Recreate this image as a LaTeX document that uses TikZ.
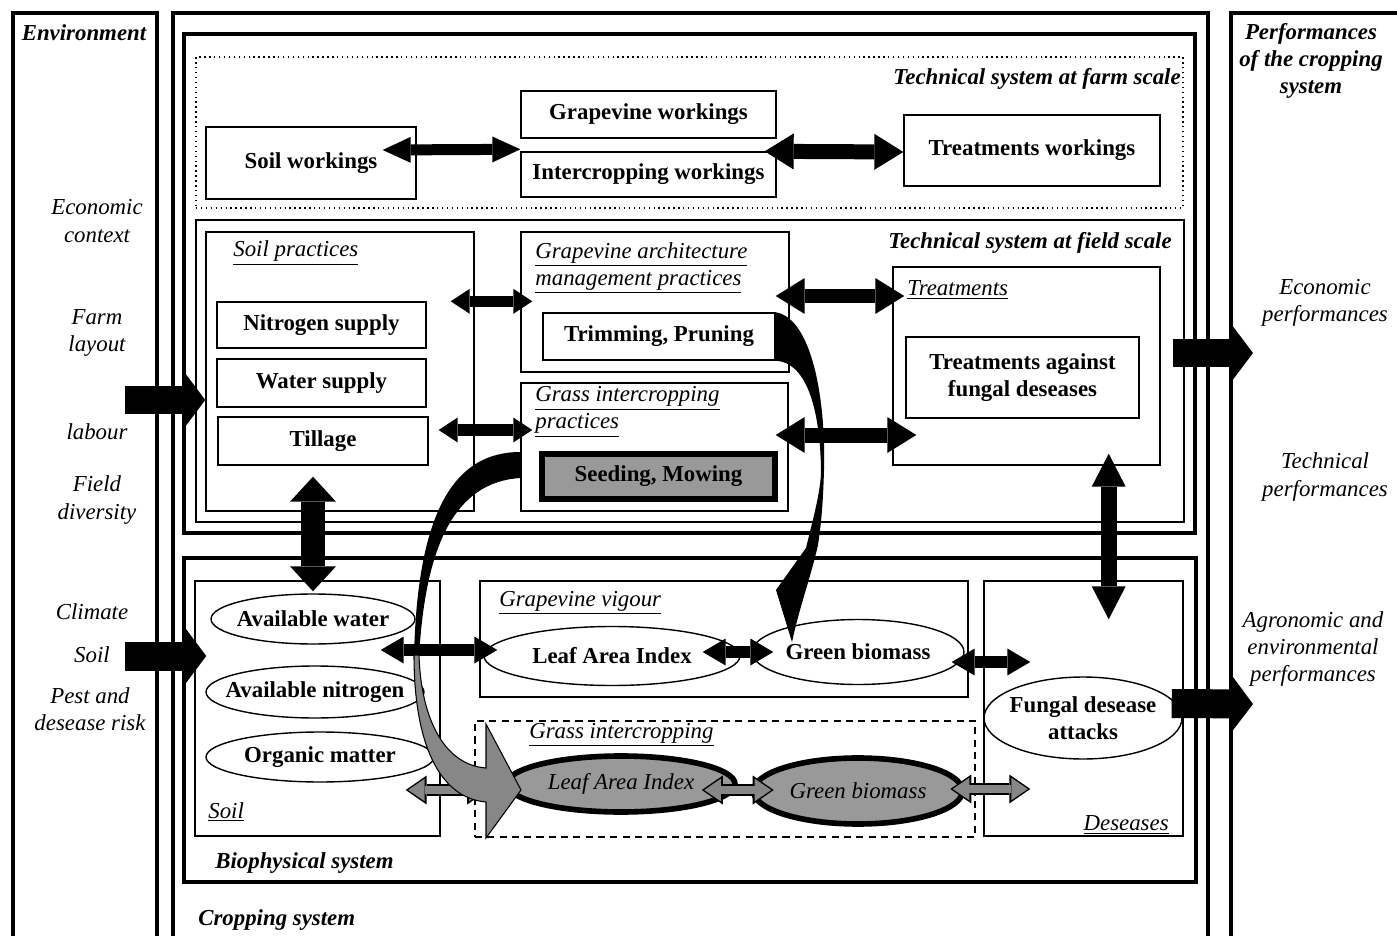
\documentclass[tikz,border=0pt]{standalone}
\usepackage{fontspec}
\setmainfont{Liberation Serif}
\usepackage{tikz}
\usetikzlibrary{arrows.meta,positioning,fit,shapes.geometric,calc}
\definecolor{seedGray}{RGB}{153,153,153}
\definecolor{arrowGray}{RGB}{135,135,135}
\newcommand{\baseSize}{\fontsize{13pt}{15.5pt}\selectfont}
\tikzset{
  thinframe/.style={draw, line width=0.8pt, inner sep=0pt},
  heavyframe/.style={draw, line width=2.3pt, inner sep=0pt},
  outerframe/.style={draw, line width=2.6pt},
  wbox/.style={draw, fill=white, line width=0.8pt, inner sep=0pt, align=center, font=\baseSize\bfseries},
  seedbox/.style={wbox, fill=seedGray, line width=3.4pt},
  oval/.style={ellipse, draw, fill=white, line width=0.8pt, inner xsep=-2cm, inner ysep=0pt, align=center, font=\baseSize\bfseries},
  grayoval/.style={oval, fill=seedGray, line width=3.2pt, font=\baseSize\itshape},
  headline/.style={inner sep=0pt, font=\baseSize\bfseries\itshape, align=center},
  sidetext/.style={inner sep=0pt, font=\baseSize\itshape, align=center},
  sublabel/.style={inner sep=0pt, font=\baseSize\itshape, align=left},
  dblarrow/.style n args={3}{draw=black, line width=#1, {Triangle[width=#2,length=#3,line width=0pt]}-{Triangle[width=#2,length=#3,line width=0pt]}},
  bigflow/.style={dblarrow={0.3cm}{0.72cm}{0.58cm}},
  smallflow/.style={dblarrow={0.23cm}{0.5cm}{0.38cm}},
  medflow/.style={dblarrow={0.25cm}{0.54cm}{0.46cm}},
  vertflow/.style={dblarrow={0.48cm}{0.92cm}{0.5cm}},
  inflow/.style={draw=black, line width=0.58cm, -{Triangle[width=1.22cm,length=0.46cm,line width=0pt]}},
  grayouter/.style={dblarrow={0.24cm}{0.58cm}{0.42cm}},
  grayinner/.style={dblarrow={0.16cm}{0.45cm}{0.33cm}, draw=arrowGray, shorten <=0.05cm, shorten >=0.05cm}
}
\begin{document}
\begin{tikzpicture}[x=0.02cm, y=-0.02cm]
\useasboundingbox (0,0) rectangle (1397,936);
% outer columns
\draw[outerframe] (13,940) |- (157,13) -- (157,940);
\draw[outerframe] (173,940) |- (1208,13) -- (1208,940);
\draw[outerframe] (1231,940) |- (1420,13);
\node[headline] (env) at (84,33) {Environment};
\node[headline] (perf) at (1311,61) {Performances\\of the cropping\\system};
\node[headline, anchor=west] (crop) at (198,920) {Cropping system};

% environment
\node[sidetext] (eco) at (97,221) {Economic\\context};
\node[sidetext] (farmlay) at (97,333) {Farm\\layout};
\node[sidetext] (labour) at (97,432) {labour};
\node[sidetext] (fdiv) at (97,500) {Field\\diversity};
\node[sidetext] (climate) at (92,612) {Climate};
\node[sidetext] (soiltxt) at (92,655) {Soil};
\node[sidetext] (risk) at (90,709) {Pest and\\desease risk};

% performances
\node[sidetext] (ecoperf) at (1325,303) {Economic\\performances};
\node[sidetext] (techperf) at (1325,477) {Technical\\performances};
\node[sidetext] (agroperf) at (1313,649) {Agronomic and\\environmental\\performances};

% technical system, farm scale
\node[heavyframe, fit={(184,34) (1195,533)}] (tech) {};
\node[thinframe, dotted, line width=0.6pt, fit={(196,57) (1183,208)}] (farm) {};
\node[headline, anchor=east] (farml) at (1181,79) {Technical system at farm scale};
\node[wbox, minimum width=4.2cm, minimum height=1.44cm] (soilw) at (311,163) {Soil workings};
\node[wbox, minimum width=5.1cm, minimum height=0.94cm] (gvw) at (648.5,114.5) {Grapevine workings};
\node[wbox, minimum width=5.1cm, minimum height=0.9cm] (icw) at (648.5,174.5) {Intercropping workings};
\node[wbox, minimum width=5.12cm, minimum height=1.42cm] (trw) at (1032,150.5) {Treatments workings};

% technical system, field scale
\node[thinframe, fit={(196,220) (1184,522)}] (field) {};
\node[headline, anchor=east] (fieldl) at (1172,243) {Technical system at field scale};
\node[thinframe, fit={(206,232) (474,511)}] (soilp) {};
\node[sublabel, anchor=west] (soilpl) at (233,253) {\underline{Soil practices}};
\node[wbox, minimum width=4.18cm, minimum height=0.92cm] (nit) at (321.5,325) {Nitrogen supply};
\node[wbox, minimum width=4.18cm, minimum height=0.96cm] (wat) at (321.5,383) {Water supply};
\node[wbox, minimum width=4.2cm, minimum height=0.96cm] (till) at (323,441) {Tillage};
\node[thinframe, fit={(521,232) (789,372)}] (arch) {};
\node[sublabel, anchor=west] (archl) at (535,268) {\underline{Grapevine architecture}\\\underline{management practices}};
\node[wbox, minimum width=4.64cm, minimum height=0.94cm] (trim) at (659,336.5) {Trimming, Pruning};
\node[thinframe, fit={(521,383) (788,511)}] (grassp) {};
\node[sublabel, anchor=west] (grasspl) at (535,412) {\underline{Grass intercropping}\\\underline{practices}};
\node[seedbox, minimum width=4.66cm, minimum height=0.9cm] (seed) at (658.5,476.5) {Seeding, Mowing};
\node[thinframe, fit={(893,267) (1160,465)}] (treat) {};
\node[sublabel, anchor=west] (treatl) at (907,290) {\underline{Treatments}};
\node[wbox, minimum width=4.66cm, minimum height=1.62cm] (tfd) at (1022.5,377.5) {Treatments against\\fungal deseases};

% biophysical system
\node[heavyframe, fit={(184,558) (1196,882)}] (bio) {};
\node[headline, anchor=west] (biol) at (215,863) {Biophysical system};
\node[thinframe, fit={(195,581) (440,836)}] (soil) {};
\node[sublabel, anchor=west] (soill) at (208,812) {\underline{Soil}};
\node[oval, minimum width=4.08cm, minimum height=1cm] (avw) at (313,619) {Available water};
\node[oval, minimum width=4.36cm, minimum height=1.04cm] (avn) at (315,692) {Available nitrogen};
\node[oval, minimum width=4.56cm, minimum height=1cm] (om) at (320,757) {Organic matter};
\node[thinframe, fit={(480,581) (968,697)}] (vig) {};
\node[sublabel, anchor=west] (vigl) at (499,603) {\underline{Grapevine vigour}};
\node[oval, minimum width=5.12cm, minimum height=1.18cm] (glai) at (612,656) {Leaf Area Index};
\node[oval, minimum width=4.24cm, minimum height=1.3cm] (vgb) at (858,652) {Green biomass};
\node[thinframe, fit={(984,581) (1183,836)}] (dis) {};
\node[sublabel, anchor=east] (disl) at (1169,825) {\underline{Deseases}};
\node[oval, minimum width=3.96cm, minimum height=1.64cm] (fda) at (1083,718) {Fungal desease\\attacks};
\node[thinframe, dash pattern=on 4pt off 3pt, fit={(475,721) (975,837)}] (gic) {};
\node[sublabel, anchor=west] (gicl) at (529,735) {\underline{Grass intercropping}};
\node[grayoval, minimum width=4.56cm, minimum height=1.12cm] (ilai) at (621,784) {Leaf Area Index};
\node[grayoval, minimum width=4.18cm, minimum height=1.32cm] (igb) at (858,791) {Green biomass};

% farm scale links
\draw[dblarrow={0.22cm}{0.52cm}{0.56cm}] ($(soilw.east)+(-34,-13)$) -- ($(icw.north west)+(0,-2)$);
\draw[bigflow] ($(icw.north east)+(-12,0)$) -- ($(trw.west)+(0,1.5)$);

% field scale links
\draw[smallflow] ($(soilp.east |- nit.north)+(-24,0)$) -- ($(arch.west |- nit.north)+(12,0)$);
\draw[smallflow] ($(till.east)+(10,-11)$) -- ($(till.east -| grassp.west)+(12,-11)$);
\draw[bigflow] ($(arch.east)+(-14,-6)$) -- ($(treat.west |- arch.east)+(12,-6)$);
\draw[bigflow] ($(grassp.east)+(-13,-12)$) -- ($(treat.west |- grassp.east)+(24,-12)$);
\draw[vertflow] ($(till.south)+(-10,11)$) -- ($(avw.north)+(0,-2)$);
\draw[dblarrow={0.32cm}{0.68cm}{0.66cm}] ($(treat.south east)+(-52,-12)$) -- ($(dis.north east)+(-75,39)$);

% biophysical links
\draw[medflow] ($(avw.east)+(-35,31)$) -- ($(glai.west)+(14,-6)$);
\draw[medflow] ($(glai.east)+(-38,-4)$) -- ($(vgb.west)+(22,0)$);
\draw[medflow] ($(vgb.east)+(-13,10)$) -- ($(dis.west |- vgb.east)+(47,10)$);
\coordinate (g1a) at ($(om.east)+(-29,33)$);
\coordinate (g1b) at ($(ilai.west)+(-16,6)$);
\coordinate (g2a) at ($(ilai.east)+(-36,6)$);
\coordinate (g2b) at ($(igb.west)+(23,-1)$);
\coordinate (g3a) at ($(igb.east)+(-15,-2)$);
\coordinate (g3b) at ($(dis.west |- igb.east)+(47,-2)$);
\foreach \a/\b in {g1a/g1b, g2a/g2b, g3a/g3b} {
  \draw[grayouter] (\a) -- (\b);
  \draw[grayinner] (\a) -- (\b);
}

% inputs and outputs
\coordinate (envin1) at (125,400);
\coordinate (envin2) at (125,656);
\coordinate (perfout1) at (1253,353);
\coordinate (perfout2) at (1253,704);
\draw[inflow] (envin1) -- (envin1 -| soilp.west);
\draw[inflow] (envin2) -- ($(envin2 -| soil.west)+(12,0)$);
\draw[inflow] ($(field.east)+(-12,-18)$) -- (perfout1);
\draw[inflow] ($(dis.east)+(-12,-5)$) -- (perfout2);

% curved arrows
\fill ($(grassp.west)+(0,5)$) .. controls (455,452) and (417,510) .. (414,658) -- (419,658) .. controls (425,545) and (455,482) .. ($(grassp.west)+(0,31)$) -- cycle;
\filldraw[fill=arrowGray, line width=0.6pt] (414,655) .. controls (414,745) and (440,798) .. (486,802) -- (486,838) -- (521,790) -- (486,724) -- (486,768) .. controls (445,765) and (421,720) .. (419,655) -- cycle;
\fill (trim.north east) .. controls (812,318) and (826,400) .. (824,470) .. controls (823,505) and (821,525) .. (818,545) .. controls (810,580) and (800,605) .. (792,642) -- (776,590) -- (806,548) .. controls (814,515) and (821,490) .. (821,470) .. controls (820,405) and (805,362) .. (trim.south east) -- cycle;
\end{tikzpicture}
\end{document}
